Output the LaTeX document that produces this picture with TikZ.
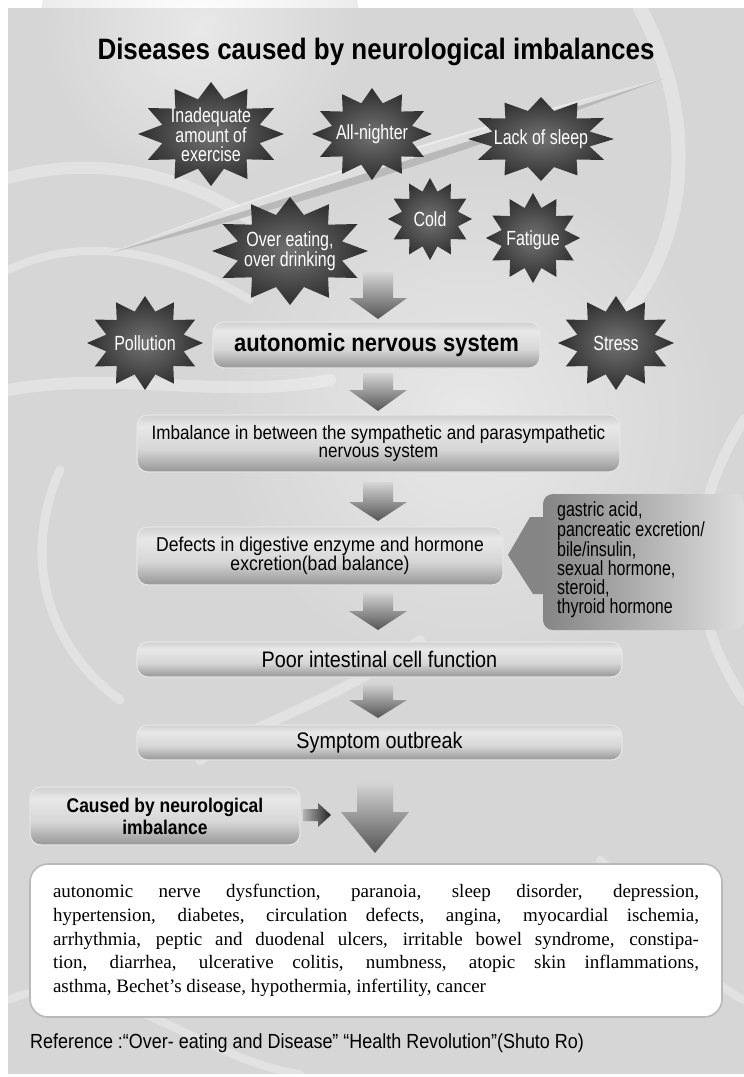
\documentclass[tikz,border=0pt]{standalone}
\usepackage{fontspec}
\setmainfont{Liberation Serif}
\newfontfamily\cond[FakeStretch=0.88]{Liberation Sans}
\newfontfamily\condn[FakeStretch=0.78]{Liberation Sans}
\usetikzlibrary{shapes.geometric}
\definecolor{bg}{gray}{0.84}
\definecolor{mA}{gray}{0.36}
\definecolor{mB}{gray}{0.50}
\definecolor{mC}{gray}{0.84}
\definecolor{mD}{gray}{0.91}
\definecolor{mE}{gray}{0.72}
\definecolor{mF}{gray}{0.48}
\definecolor{arT}{gray}{0.84}
\definecolor{arM}{gray}{0.62}
\definecolor{arB}{gray}{0.33}
\definecolor{pnL}{gray}{0.52}
\definecolor{pnR}{gray}{0.87}
\definecolor{starIn}{gray}{0.45}
\definecolor{starOut}{gray}{0.18}
\pgfdeclareverticalshading{metal}{100bp}{color(0bp)=(mA); color(18bp)=(mB); color(45bp)=(mC); color(65bp)=(mD); color(85bp)=(mE); color(100bp)=(mF)}
\newcommand\burst[4]{%
  \shade[inner color=starIn, outer color=starOut]
    plot[samples at={0,1,...,23}, variable=\t]
    ({#1+#3*(1-0.31*mod(\t,2))*cos(90+\t*15)},{#2+#4*(1-0.31*mod(\t,2))*sin(90+\t*15)}) -- cycle;}
\newcommand\fatarrow[6]{%
  \shade[top color=arT, middle color=arM, bottom color=arB]
    (#1-#5,#2) -- (#1+#5,#2) -- (#1+#5,#3) -- (#1+#6,#3) -- (#1,#4) -- (#1-#6,#3) -- (#1-#5,#3) -- cycle;}
\begin{document}
\begin{tikzpicture}[x=1pt,y=-1pt,
  startext/.style={text=white, font=\condn\fontsize{20.5}{19}\selectfont, align=center, inner sep=0pt},
  metalbox/.style={shade, shading=metal, rounded corners=11pt, draw=white!80!gray, line width=1.2pt,
     inner sep=0pt, align=center, text=black},
  nerve/.style={white, opacity=0.3, line width=12pt, line cap=round}]
\useasboundingbox (0,0) rectangle (744,1077);
\fill[white] (0,0) rectangle (744,1077);
\fill[bg] (8,8) rectangle (744,1074);
% background texture
\shade[inner color=white, outer color=bg, opacity=0.45] (470,420) circle (260);
\shade[inner color=white, outer color=bg, opacity=0.45] (200,30) circle (160);
\draw[nerve] (8,178) .. controls (110,150) and (220,180) .. (300,260);
\draw[nerve, line width=8pt] (8,270) .. controls (80,235) and (170,250) .. (250,300);
\draw[nerve] (8,390) .. controls (120,370) and (220,400) .. (330,380);
\draw[nerve, line width=9pt] (60,470) .. controls (20,560) and (50,650) .. (120,700);
\draw[nerve, line width=14pt] (640,8) .. controls (700,120) and (690,250) .. (610,330);
\draw[nerve, line width=10pt] (744,420) .. controls (680,520) and (690,620) .. (744,700);
\draw[nerve, line width=10pt] (200,760) .. controls (260,720) and (340,700) .. (420,640);
\draw[nerve, line width=8pt] (600,860) .. controls (650,900) and (700,980) .. (744,1000);
\draw[nerve, line width=8pt] (8,1000) .. controls (100,960) and (200,1060) .. (300,1074);
% light streak
\fill[gray!60, opacity=0.8] (110,253) .. controls (250,200) and (400,150) .. (665,78)
   .. controls (420,170) and (260,215) .. (110,253) -- cycle;
\fill[white, opacity=0.55] (110,253) .. controls (250,198) and (400,146) .. (665,78)
   .. controls (420,158) and (260,205) .. (110,253) -- cycle;
% title
\node[font=\cond\bfseries\fontsize{29.5}{30}\selectfont, inner sep=0pt] (title) at (376,52)
  {Diseases caused by neurological imbalances};
% stars
\burst{211}{134}{73}{52}
\burst{372}{134}{60}{46}
\burst{541}{139}{73}{42}
\burst{430}{219}{42}{41}
\burst{290}{251}{78}{54}
\burst{533}{238}{47}{45}
\burst{145}{343}{58}{47}
\burst{616}{343}{58}{47}
\node[startext] (inad) at (211,135) {Inadequate\\amount of\\exercise};
\node[startext] (allnight) at (372,134) {All-nighter};
\node[startext] (sleep) at (541,139) {Lack of sleep};
\node[startext] (cold) at (430,219) {Cold};
\node[startext] (overeat) at (290,251) {Over eating,\\over drinking};
\node[startext] (fatigue) at (533,240) {Fatigue};
\node[startext] (pollution) at (145,343) {Pollution};
\node[startext] (stress) at (616,343) {Stress};
% side panel
\shade[left color=pnL, right color=pnR, rounded corners=10pt] (543,494) rectangle (744,630);
\fill[pnL] (508,555) -- (530,517) -- (546,517) -- (546,594) -- (533,594) -- cycle;
\node[anchor=north west, align=left, font=\condn\fontsize{20.5}{19}\selectfont, inner sep=0pt] (hormones) at (557,501)
  {gastric acid,\\pancreatic excretion/\\bile/insulin,\\sexual hormone,\\steroid,\\thyroid hormone};
% arrows
\fatarrow{378}{272}{298}{319}{15}{29}
\fatarrow{378}{373}{390}{411}{15}{29}
\fatarrow{378}{482}{502}{521}{15}{29}
\fatarrow{378}{592}{611}{630}{15}{29}
\fatarrow{378}{683}{700}{718}{15}{29}
\fatarrow{375}{782}{812}{853}{18}{34}
% boxes
\node[metalbox, minimum width=327pt, minimum height=46pt, font=\cond\bfseries\fontsize{25}{26}\selectfont] (ans) at (376.5,345) {autonomic nervous system};
\node[metalbox, minimum width=483pt, minimum height=57pt, font=\cond\fontsize{19.4}{18.5}\selectfont] (imb) at (378.5,443.5)
  {Imbalance in between the sympathetic and parasympathetic\\nervous system};
\node[metalbox, minimum width=366pt, minimum height=58pt, font=\cond\fontsize{20}{19.5}\selectfont] (def) at (320,556)
  {Defects in digestive enzyme and hormone\\excretion(bad balance)};
\node[metalbox, minimum width=485pt, minimum height=35pt, font=\cond\fontsize{22.5}{23}\selectfont] (poor) at (379.5,659.5) {Poor intestinal cell function};
\node[metalbox, minimum width=485pt, minimum height=35pt, font=\cond\fontsize{22.5}{23}\selectfont] (symp) at (379.5,742.5) {Symptom outbreak};
\node[metalbox, minimum width=270pt, minimum height=58pt, font=\cond\bfseries\fontsize{19.8}{22}\selectfont] (cause) at (165,816)
  {Caused by neurological\\imbalance};
% small right arrow
\shade[left color=gray!60, right color=gray!25!black]
  (303,809) -- (318,809) -- (318,803) -- (331,815) -- (318,827) -- (318,821) -- (303,821) -- cycle;
% list
\node[draw=gray!55, line width=1.6pt, rounded corners=18pt, fill=white, text width=646pt, inner xsep=23pt, inner ysep=0pt,
  minimum height=153pt, align=justify,
  font={\fontsize{19}{23.8}\selectfont\hyphenpenalty=10000\tolerance=9999}] (list) at (376,940.5)
 {autonomic nerve dysfunction, paranoia, sleep disorder, depression,\linebreak
  hypertension, diabetes, circulation defects, angina, myocardial ischemia,\linebreak
  arrhythmia, peptic and duodenal ulcers, irritable bowel syndrome, constipa-\linebreak
  tion, diarrhea, ulcerative colitis, numbness, atopic skin inflammations,\linebreak
  asthma, Bechet’s disease, hypothermia, infertility, cancer};
\node[anchor=west, font=\cond\fontsize{20.4}{21}\selectfont, inner sep=0pt] (ref) at (30,1043)
  {Reference :“Over- eating and Disease” “Health Revolution”(Shuto Ro)};
\end{tikzpicture}
\end{document}
